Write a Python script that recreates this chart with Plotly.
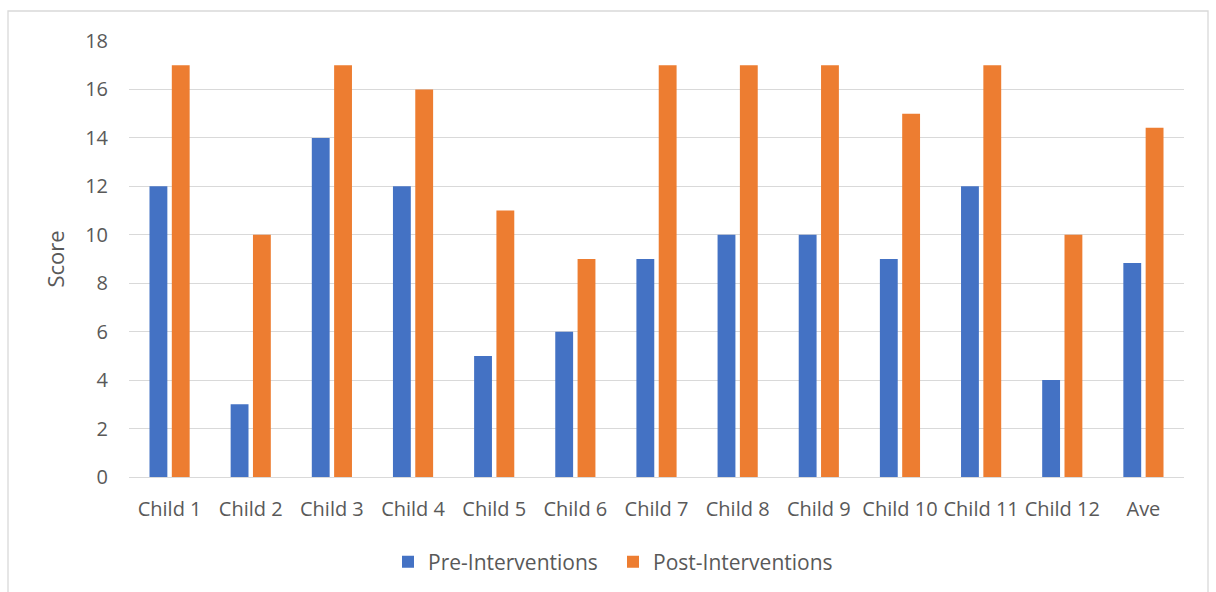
import plotly.graph_objects as go

categories = ["Child 1", "Child 2", "Child 3", "Child 4", "Child 5", "Child 6",
              "Child 7", "Child 8", "Child 9", "Child 10", "Child 11", "Child 12", "Ave"]
pre_scores = [12, 3, 14, 12, 5, 6, 9, 10, 10, 9, 12, 4, 8.83]
post_scores = [17, 10, 17, 16, 11, 9, 17, 17, 17, 15, 17, 10, 14.42]
y_ticks = [0, 2, 4, 6, 8, 10, 12, 14, 16, 18]

W, H = 1216, 592
L, R, T, B = 129, 32, 41, 115
pw, ph = W - L - R, H - T - B

text_color = "#595959"
grid_color = "#d9d9d9"
font_family = "Open Sans, Noto Sans, sans-serif"

fig = go.Figure()
fig.add_trace(go.Bar(name="Pre-Interventions", x=categories, y=pre_scores,
                     marker=dict(color="#4472C4", line=dict(width=0))))
fig.add_trace(go.Bar(name="Post-Interventions", x=categories, y=post_scores,
                     marker=dict(color="#ED7D31", line=dict(width=0))))

# chart-area frame drawn in paper coordinates
def px_x(v):
    return (v - L) / pw

def px_y(v):
    return (H - B - v) / ph

fig.add_shape(type="rect", xref="paper", yref="paper",
              x0=px_x(8), x1=px_x(1208), y0=px_y(620), y1=px_y(11),
              line=dict(color=grid_color, width=1.3), fillcolor="rgba(0,0,0,0)",
              layer="below")

fig.update_layout(
    width=W, height=H,
    margin=dict(l=L, r=R, t=T, b=B, autoexpand=False),
    paper_bgcolor="white", plot_bgcolor="white",
    barmode="group", bargap=0.45, bargroupgap=0.2,
    font=dict(family=font_family, color=text_color, size=20),
    showlegend=True,
    legend=dict(orientation="h", x=px_x(388), xanchor="left",
                y=px_y(562), yanchor="middle",
                font=dict(size=21, color=text_color),
                itemwidth=30, traceorder="normal",
                entrywidth=180, entrywidthmode="pixels"),
    xaxis=dict(showgrid=False, showline=True, linecolor=grid_color, linewidth=1.3,
               ticks="", tickfont=dict(size=20, color=text_color),
               ticklabelstandoff=14, fixedrange=True),
    yaxis=dict(range=[0, 18], tickvals=y_ticks, showgrid=True, gridcolor=grid_color,
               gridwidth=1.3, zeroline=False, showline=False, ticks="",
               tickfont=dict(size=20, color=text_color), ticklabelstandoff=20,
               title=dict(text="Score", font=dict(size=22, color=text_color), standoff=14),
               fixedrange=True),
)

fig.write_html("out.html")
